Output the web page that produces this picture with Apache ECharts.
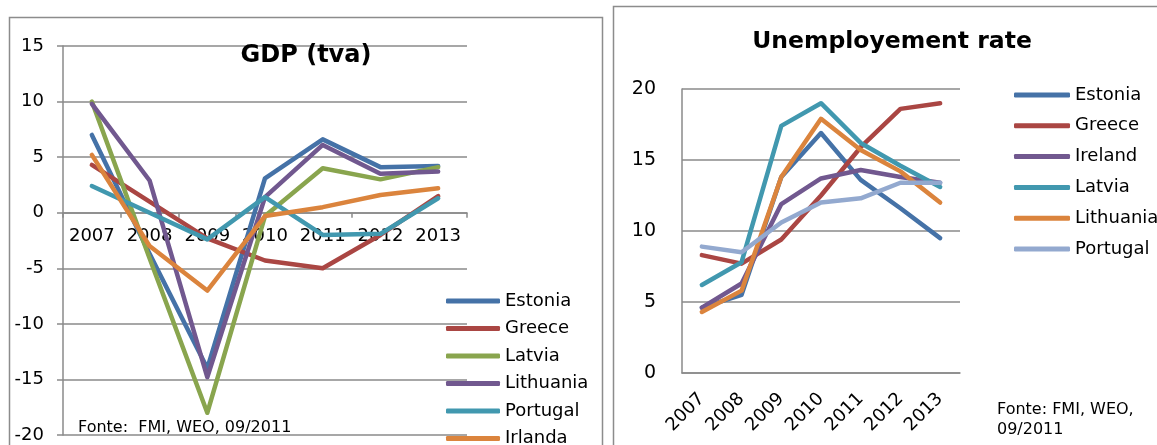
<!DOCTYPE html>
<html>
<head>
<meta charset="utf-8">
<script src="https://cdn.jsdelivr.net/npm/echarts@6/dist/echarts.min.js"></script>
<style>
  html, body { margin: 0; padding: 0; background: #fff; }
  #c1 { position: absolute; left: 0; top: 0; width: 605px; height: 445px; }
  #c2 { position: absolute; left: 605px; top: 0; width: 552px; height: 445px; }
</style>
</head>
<body>
<div id="c1"></div>
<div id="c2"></div>
<script>
// ---- Data ----
const years = ['2007', '2008', '2009', '2010', '2011', '2012', '2013'];

// GDP (tva)
const gdpEstonia   = [7.0, -3.7, -14.0, 3.1, 6.6, 4.1, 4.2];
const gdpGreece    = [4.3, 1.0, -2.3, -4.3, -5.0, -2.0, 1.5];
const gdpLatvia    = [10.0, -4.1, -18.0, -0.3, 4.0, 3.0, 4.1];
const gdpLithuania = [9.8, 2.9, -14.8, 1.4, 6.1, 3.5, 3.7];
const gdpPortugal  = [2.4, 0.0, -2.4, 1.4, -2.0, -1.9, 1.3];
const gdpIrlanda   = [5.2, -3.0, -7.0, -0.3, 0.5, 1.6, 2.2];
const gdpTicks = { min: -20, max: 15, step: 5 };

// Unemployement rate
const unEstonia   = [4.6, 5.5, 13.8, 16.9, 13.6, 11.6, 9.5];
const unGreece    = [8.3, 7.7, 9.4, 12.5, 15.9, 18.6, 19.0];
const unIreland   = [4.6, 6.3, 11.9, 13.7, 14.3, 13.8, 13.4];
const unLatvia    = [6.2, 7.8, 17.4, 19.0, 16.2, 14.6, 13.1];
const unLithuania = [4.3, 5.8, 13.8, 17.9, 15.7, 14.2, 12.0];
const unPortugal  = [8.9, 8.5, 10.6, 12.0, 12.3, 13.4, 13.4];
const unTicks = { min: 0, max: 20, step: 5 };

const C = {
  blue: '#4572A7', red: '#AA4643', green: '#89A54E', purple: '#71588F',
  teal: '#4198AF', orange: '#DB843D', lightblue: '#93A9CF'
};
const FONT = 'DejaVu Sans';
const GRIDC = '#8a8a8a';

function lineSeries(name, data, color) {
  return {
    name: name, type: 'line', data: data, showSymbol: false, symbol: 'none',
    color: color,
    lineStyle: { width: 4.5, color: color, cap: 'round', join: 'round' },
    emphasis: { disabled: true }, animation: false
  };
}

// ---- Left chart ----
const g1 = { left: 63, right: 138, top: 46, bottom: 10, height: 445 };
const plotH1 = g1.height - g1.top - g1.bottom;
// distance of the zero line above the grid bottom, from the axis scale
const zeroOffset = plotH1 * (0 - gdpTicks.min) / (gdpTicks.max - gdpTicks.min);

const ch1 = echarts.init(document.getElementById('c1'), null, { renderer: 'canvas' });
ch1.setOption({
  animation: false,
  textStyle: { fontFamily: FONT },
  title: {
    text: 'GDP (tva)', left: 306, top: 42, textAlign: 'center', padding: 0,
    textStyle: { fontFamily: FONT, fontWeight: 'bold', fontSize: 24, color: '#000', lineHeight: 28 }
  },
  grid: { left: g1.left, right: g1.right, top: g1.top, bottom: g1.bottom, containLabel: false, outerBoundsMode: 'none' },
  xAxis: {
    type: 'category', data: years, boundaryGap: true,
    position: 'bottom', offset: -zeroOffset,
    axisLine: { onZero: false, lineStyle: { color: GRIDC, width: 1.5 } },
    axisTick: { show: true, length: 5, lineStyle: { color: GRIDC, width: 1.5 } },
    axisLabel: { color: '#000', fontSize: 18, fontFamily: FONT, margin: 15, interval: 0 },
    splitLine: { show: false }
  },
  yAxis: {
    type: 'value', min: gdpTicks.min, max: gdpTicks.max, interval: gdpTicks.step,
    axisLine: { show: true, lineStyle: { color: GRIDC, width: 1.5 } },
    axisTick: { show: true, length: 6, lineStyle: { color: GRIDC, width: 1.5 } },
    axisLabel: { color: '#000', fontSize: 18, fontFamily: FONT, margin: 19 },
    splitLine: { show: true, lineStyle: { color: GRIDC, width: 1.5 } }
  },
  legend: {
    orient: 'vertical', left: 446, top: 292, height: 180, padding: 0,
    itemWidth: 54, itemHeight: 5, itemGap: 9.5, icon: 'roundRect',
    textStyle: { fontSize: 18, fontFamily: FONT, color: '#000', lineHeight: 18, padding: [0, 0, 0, 0] },
    data: ['Estonia', 'Greece', 'Latvia', 'Lithuania', 'Portugal', 'Irlanda'],
    selectedMode: false
  },
  graphic: [
    { type: 'rect', silent: true, z: -1,
      shape: { x: 9.5, y: 17.5, width: 593, height: 440 },
      style: { fill: 'none', stroke: '#8c8c8c', lineWidth: 1.5 } },
    { type: 'text', silent: true,
      style: { x: 78, y: 428, text: 'Fonte:  FMI, WEO, 09/2011', font: '16px "DejaVu Sans"', fill: '#000', textVerticalAlign: 'middle' } }
  ],
  series: [
    lineSeries('Estonia', gdpEstonia, C.blue),
    lineSeries('Greece', gdpGreece, C.red),
    lineSeries('Latvia', gdpLatvia, C.green),
    lineSeries('Lithuania', gdpLithuania, C.purple),
    lineSeries('Portugal', gdpPortugal, C.teal),
    lineSeries('Irlanda', gdpIrlanda, C.orange)
  ]
});

// ---- Right chart ----
const ch2 = echarts.init(document.getElementById('c2'), null, { renderer: 'canvas' });
ch2.setOption({
  animation: false,
  textStyle: { fontFamily: FONT },
  title: {
    text: 'Unemployement rate', left: 287, top: 28, textAlign: 'center', padding: 0,
    textStyle: { fontFamily: FONT, fontWeight: 'bold', fontSize: 23.5, color: '#000', lineHeight: 28 }
  },
  grid: { left: 77, right: 197, top: 89, bottom: 72, containLabel: false, outerBoundsMode: 'none' },
  xAxis: {
    type: 'category', data: years, boundaryGap: true,
    axisLine: { lineStyle: { color: GRIDC, width: 1.5 } },
    axisTick: { show: false },
    axisLabel: { color: '#000', fontSize: 18, fontFamily: FONT, margin: 23, rotate: 45, interval: 0 },
    splitLine: { show: false }
  },
  yAxis: {
    type: 'value', min: unTicks.min, max: unTicks.max, interval: unTicks.step,
    axisLine: { show: true, lineStyle: { color: GRIDC, width: 1.5 } },
    axisTick: { show: false },
    axisLabel: { color: '#000', fontSize: 19, fontFamily: FONT, margin: 26 },
    splitLine: { show: true, lineStyle: { color: GRIDC, width: 1.5 } }
  },
  legend: {
    orient: 'vertical', left: 409, top: 86, height: 220, padding: 0,
    itemWidth: 56, itemHeight: 5, itemGap: 12.8, icon: 'roundRect',
    textStyle: { fontSize: 18, fontFamily: FONT, color: '#000', lineHeight: 18, padding: [0, 0, 0, 0] },
    data: ['Estonia', 'Greece', 'Ireland', 'Latvia', 'Lithuania', 'Portugal'],
    selectedMode: false
  },
  graphic: [
    { type: 'rect', silent: true, z: -1,
      shape: { x: 8.5, y: 6.5, width: 560, height: 450 },
      style: { fill: 'none', stroke: '#8c8c8c', lineWidth: 1.5 } },
    { type: 'text', silent: true,
      style: { x: 392, y: 410, text: 'Fonte: FMI, WEO,', font: '16px "DejaVu Sans"', fill: '#000', textVerticalAlign: 'middle' } },
    { type: 'text', silent: true,
      style: { x: 392, y: 430, text: '09/2011', font: '16px "DejaVu Sans"', fill: '#000', textVerticalAlign: 'middle' } }
  ],
  series: [
    lineSeries('Estonia', unEstonia, C.blue),
    lineSeries('Greece', unGreece, C.red),
    lineSeries('Ireland', unIreland, C.purple),
    lineSeries('Latvia', unLatvia, C.teal),
    lineSeries('Lithuania', unLithuania, C.orange),
    lineSeries('Portugal', unPortugal, C.lightblue)
  ]
});
</script>
</body>
</html>
